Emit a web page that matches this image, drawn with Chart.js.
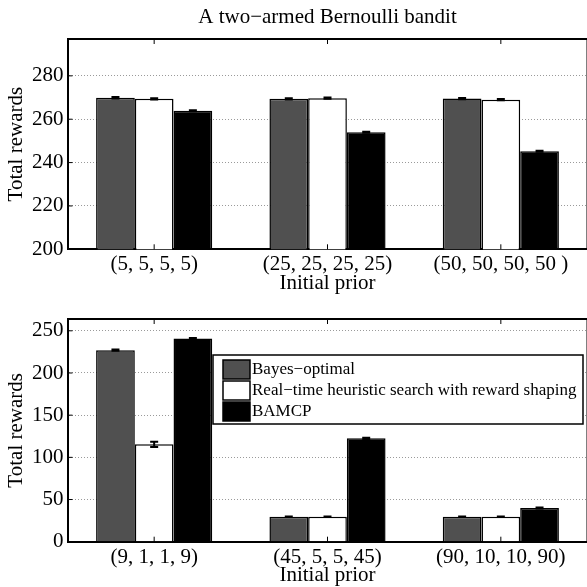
<!DOCTYPE html>
<html>
<head>
<meta charset="utf-8">
<script src="https://cdn.jsdelivr.net/npm/chart.js@4/dist/chart.umd.min.js"></script>
<style>
    html, body { margin: 0; padding: 0; background: #fff; }
    #wrap { width: 587px; height: 587px; overflow: hidden; position: relative; }
    canvas { display: block; position: absolute; left: 0; }
</style>
</head>
<body>
<div id="wrap">
    <canvas id="top-chart" width="600" height="296" style="top:0"></canvas>
    <canvas id="bottom-chart" width="600" height="292" style="top:296px"></canvas>
</div>
<script>
// data
const chart_title = 'A two\u2212armed Bernoulli bandit';
const series_names = ['Bayes\u2212optimal', 'Real\u2212time heuristic search with reward shaping', 'BAMCP'];
const series_colors = ['#505050', '#ffffff', '#000000'];

const top_categories = ['(5, 5, 5, 5)', '(25, 25, 25, 25)', '(50, 50, 50, 50 )'];
const top_bayes = [269.9, 269.4, 269.5];
const top_rths = [269.4, 269.7, 269.0];
const top_bamcp = [263.9, 254.0, 245.2];
const top_bayes_err = [0.3, 0.3, 0.3];
const top_rths_err = [0.3, 0.3, 0.3];
const top_bamcp_err = [0.2, 0.2, 0.2];
const top_ticks = [200, 220, 240, 260, 280];

const bottom_categories = ['(9, 1, 1, 9)', '(45, 5, 5, 45)', '(90, 10, 10, 90)'];
const bottom_bayes = [227.1, 29.6, 29.6];
const bottom_rths = [115.4, 29.6, 29.6];
const bottom_bamcp = [241.0, 122.5, 39.9];
const bottom_bayes_err = [0.8, 0.4, 0.4];
const bottom_rths_err = [3.2, 0.4, 0.4];
const bottom_bamcp_err = [0.6, 0.8, 0.6];
const bottom_ticks = [0, 50, 100, 150, 200, 250];

const serif = "'Liberation Serif', 'Times New Roman', serif";

// error bars on top of each bar
const error_bars = {
    id: 'error_bars',
    afterDatasetsDraw(chart) {
        const ctx = chart.ctx;
        const y = chart.scales.y;
        ctx.save();
        ctx.strokeStyle = '#000';
        ctx.lineWidth = 2;
        chart.data.datasets.forEach((ds, i) => {
            chart.getDatasetMeta(i).data.forEach((bar, j) => {
                const v = ds.data[j], e = ds.errors[j];
                const y1 = y.getPixelForValue(v + e);
                const y2 = y.getPixelForValue(v - e);
                ctx.beginPath();
                ctx.moveTo(bar.x, y1); ctx.lineTo(bar.x, y2);
                ctx.moveTo(bar.x - 4, y1); ctx.lineTo(bar.x + 4, y1);
                ctx.moveTo(bar.x - 4, y2); ctx.lineTo(bar.x + 4, y2);
                ctx.stroke();
            });
        });
        ctx.restore();
    }
};

// top frame line plus small inward tick marks
const frame = {
    id: 'frame',
    afterDraw(chart) {
        const {ctx, chartArea} = chart;
        ctx.save();
        ctx.strokeStyle = '#000';
        ctx.lineWidth = 2;
        ctx.beginPath();
        ctx.moveTo(chartArea.left, chartArea.top);
        ctx.lineTo(chartArea.right, chartArea.top);
        ctx.lineTo(chartArea.right, chartArea.bottom);
        ctx.stroke();
        ctx.lineWidth = 1;
        ctx.beginPath();
        chart.scales.x.ticks.forEach((t, i) => {
            const px = chart.scales.x.getPixelForTick(i);
            ctx.moveTo(px, chartArea.top); ctx.lineTo(px, chartArea.top + 5);
            ctx.moveTo(px, chartArea.bottom); ctx.lineTo(px, chartArea.bottom - 5);
        });
        chart.scales.y.ticks.forEach((t, i) => {
            const py = chart.scales.y.getPixelForTick(i);
            ctx.moveTo(chartArea.left, py); ctx.lineTo(chartArea.left + 5, py);
        });
        ctx.stroke();
        ctx.restore();
    }
};

// title centred over the plot area, as in the original figure
const plot_title = {
    id: 'plot_title',
    afterDraw(chart) {
        const {ctx, chartArea} = chart;
        ctx.save();
        ctx.fillStyle = '#000';
        ctx.font = '21px ' + serif;
        ctx.textAlign = 'center';
        ctx.textBaseline = 'middle';
        ctx.fillText(chart_title, (chartArea.left + chartArea.right) / 2, 17);
        ctx.restore();
    }
};

// boxed legend inside the lower plot
const box_legend = {
    id: 'box_legend',
    afterDraw(chart) {
        const ctx = chart.ctx;
        const x0 = 213, y0 = 59, w = 370, h = 69;
        ctx.save();
        ctx.fillStyle = '#fff';
        ctx.fillRect(x0, y0, w, h);
        ctx.strokeStyle = '#000';
        ctx.lineWidth = 1.5;
        ctx.strokeRect(x0, y0, w, h);
        ctx.font = '17px ' + serif;
        ctx.textBaseline = 'middle';
        chart.data.datasets.forEach((ds, i) => {
            const ry = y0 + 5 + i * 21;
            ctx.fillStyle = ds.backgroundColor;
            ctx.fillRect(x0 + 10, ry, 27, 19);
            ctx.strokeStyle = '#000';
            ctx.lineWidth = 1.5;
            ctx.strokeRect(x0 + 10, ry, 27, 19);
            ctx.fillStyle = '#000';
            ctx.fillText(ds.label, x0 + 39, ry + 10);
        });
        ctx.restore();
    }
};

function make_datasets(values, errors) {
    return values.map((vals, i) => ({
        label: series_names[i],
        data: vals,
        errors: errors[i],
        backgroundColor: series_colors[i],
        borderColor: '#000',
        borderWidth: 1.5,
        barPercentage: 1,
        categoryPercentage: 0.67
    }));
}

function make_options(y_min, y_max, ticks, axis_height, pad_top) {
    return {
        responsive: false,
        animation: false,
        layout: { padding: { left: 0, right: 12.5, top: pad_top, bottom: 0 } },
        plugins: {
            legend: { display: false },
            tooltip: { enabled: false },
            title: { display: false }
        },
        scales: {
            x: {
                offset: true,
                grid: { display: false, drawTicks: false },
                border: { display: true, color: '#000', width: 2 },
                ticks: { color: '#000', font: { family: serif, size: 21 }, padding: 3, maxRotation: 0 },
                title: {
                    display: true, text: 'Initial prior', color: '#000',
                    font: { family: serif, size: 21 }, padding: { top: 0, bottom: 0 }
                },
                afterFit: scale => { scale.height = axis_height; }
            },
            y: {
                min: y_min,
                max: y_max,
                grid: { color: '#9a9a9a', lineWidth: 1, drawTicks: false },
                border: { display: true, color: '#000', width: 2, dash: [1, 2] },
                ticks: { color: '#000', font: { family: serif, size: 21 }, padding: 4 },
                afterBuildTicks: scale => { scale.ticks = ticks.map(v => ({ value: v })); },
                title: {
                    display: true, text: 'Total rewards', color: '#000',
                    font: { family: serif, size: 21 }, padding: { top: 4, bottom: 0 }
                },
                afterFit: scale => { scale.width = 67.5; }
            }
        }
    };
}

new Chart(document.getElementById('top-chart'), {
    type: 'bar',
    data: {
        labels: top_categories,
        datasets: make_datasets([top_bayes, top_rths, top_bamcp], [top_bayes_err, top_rths_err, top_bamcp_err])
    },
    options: make_options(200, 297, top_ticks, 46.7, 39),
    plugins: [error_bars, frame, plot_title]
});

new Chart(document.getElementById('bottom-chart'), {
    type: 'bar',
    data: {
        labels: bottom_categories,
        datasets: make_datasets([bottom_bayes, bottom_rths, bottom_bamcp], [bottom_bayes_err, bottom_rths_err, bottom_bamcp_err])
    },
    options: make_options(0, 264, bottom_ticks, 46.3, 23),
    plugins: [error_bars, frame, box_legend]
});
</script>
</body>
</html>
